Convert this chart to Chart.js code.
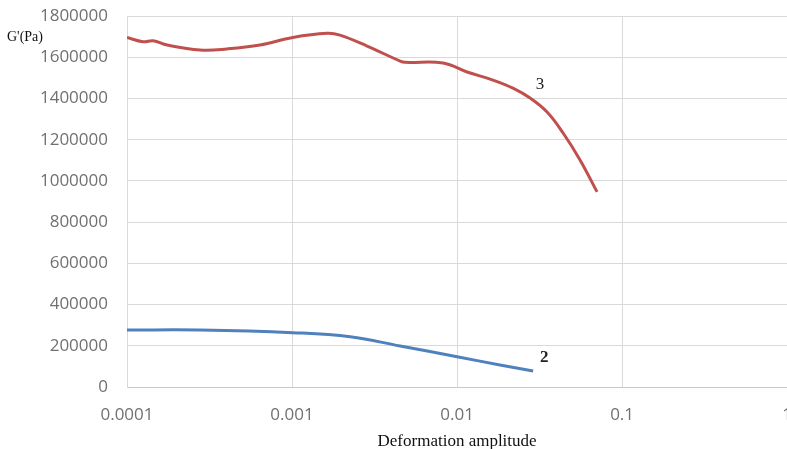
<!doctype html>
<html lang="en">
  <head>
    <meta charset="UTF-8" />
    <title>G' vs deformation amplitude</title>
    <script src="https://cdn.jsdelivr.net/npm/chart.js"></script>
    <style>
      body { margin: 0; background: #fff; }
      #wrap { width: 787px; height: 449px; overflow: hidden; }
      #modulusChart { display: block; margin-top: -13px; }
    </style>
  </head>
  <body>
    <div id="wrap">
      <canvas id="modulusChart" width="810" height="462"></canvas>
    </div>

    <script>
      // amplitude (x, log axis) and storage modulus G' in Pa
      const amplitude3 = [0.0001, 0.000125, 0.000144, 0.000175, 0.000277, 0.000403, 0.00064, 0.00101,
        0.00163, 0.00195, 0.00285, 0.00452, 0.00484, 0.00823, 0.0115, 0.0165, 0.0218, 0.0277,
        0.0351, 0.0439, 0.0556, 0.0705];
      const modulus3 = [1697000, 1676000, 1681000, 1660000, 1636000, 1641000, 1660000, 1697000,
        1717000, 1708000, 1655000, 1582000, 1576000, 1573000, 1529000, 1490000, 1451000, 1403000,
        1335000, 1233000, 1102000, 947000];

      const amplitude2 = [0.0001, 0.000277, 0.00101, 0.00225, 0.00452, 0.01, 0.0182, 0.0289];
      const modulus2 = [276700, 276700, 263600, 244000, 199000, 147000, 107000, 77700];

      const xTickValues = [0.0001, 0.001, 0.01, 0.1, 1];
      const curveNames = ["3", "2"];

      function toPoints(xs, ys) {
        return xs.map((x, i) => ({ x: x, y: ys[i] }));
      }

      // curve numbers written next to each line, plus the y caption
      const curveLabels = {
        id: "curveLabels",
        afterDatasetsDraw(chart) {
          const { ctx, scales, chartArea } = chart;
          const spots = [
            { text: curveNames[0], x: 0.0318, y: 1466000, weight: "normal" },
            { text: curveNames[1], x: 0.0337, y: 141000, weight: "bold" },
          ];
          ctx.save();
          ctx.fillStyle = "#222";
          ctx.textAlign = "center";
          ctx.textBaseline = "middle";
          spots.forEach((s) => {
            ctx.font = s.weight + " 17px 'Liberation Serif'";
            ctx.fillText(s.text, scales.x.getPixelForValue(s.x), scales.y.getPixelForValue(s.y));
          });
          ctx.font = "14px 'Liberation Serif'";
          ctx.fillStyle = "#111";
          ctx.textAlign = "left";
          ctx.fillText("G'(Pa)", 7, chartArea.top + 21);
          ctx.restore();
        },
      };

      new Chart(document.getElementById("modulusChart"), {
        type: "line",
        data: {
          datasets: [
            {
              label: curveNames[0],
              data: toPoints(amplitude3, modulus3),
              borderColor: "#c0504d",
              borderWidth: 3,
              pointRadius: 0,
              tension: 0.4,
              fill: false,
            },
            {
              label: curveNames[1],
              data: toPoints(amplitude2, modulus2),
              borderColor: "#4f81bd",
              borderWidth: 3,
              pointRadius: 0,
              tension: 0.4,
              fill: false,
            },
          ],
        },
        options: {
          responsive: false,
          animation: false,
          layout: { padding: 0 },
          plugins: { legend: { display: false }, tooltip: { enabled: false } },
          scales: {
            x: {
              type: "logarithmic",
              min: 0.0001,
              max: 1,
              afterBuildTicks: (scale) => {
                scale.ticks = xTickValues.map((v) => ({ value: v }));
              },
              afterFit: (scale) => {
                scale.height = 62;
              },
              ticks: {
                color: "#707070",
                font: { family: "'Open Sans'", size: 17 },
                padding: 18,
                maxRotation: 0,
                autoSkip: false,
                callback: (v) => String(v),
              },
              grid: { color: "#d9d9d9", lineWidth: 1, drawTicks: false },
              border: { color: "#c8c8c8" },
              title: {
                display: true,
                text: "Deformation amplitude",
                color: "#111",
                font: { family: "'Liberation Serif'", size: 17 },
                padding: { top: 0, bottom: -3 },
              },
            },
            y: {
              min: 0,
              max: 1800000,
              afterFit: (scale) => {
                scale.width = 127;
              },
              ticks: {
                stepSize: 200000,
                color: "#707070",
                font: { family: "'Open Sans'", size: 17 },
                padding: 19,
                callback: (v) => String(v),
              },
              grid: { color: "#d9d9d9", lineWidth: 1, drawTicks: false },
              border: { color: "#d9d9d9" },
            },
          },
        },
        plugins: [curveLabels],
      });
    </script>
  </body>
</html>
